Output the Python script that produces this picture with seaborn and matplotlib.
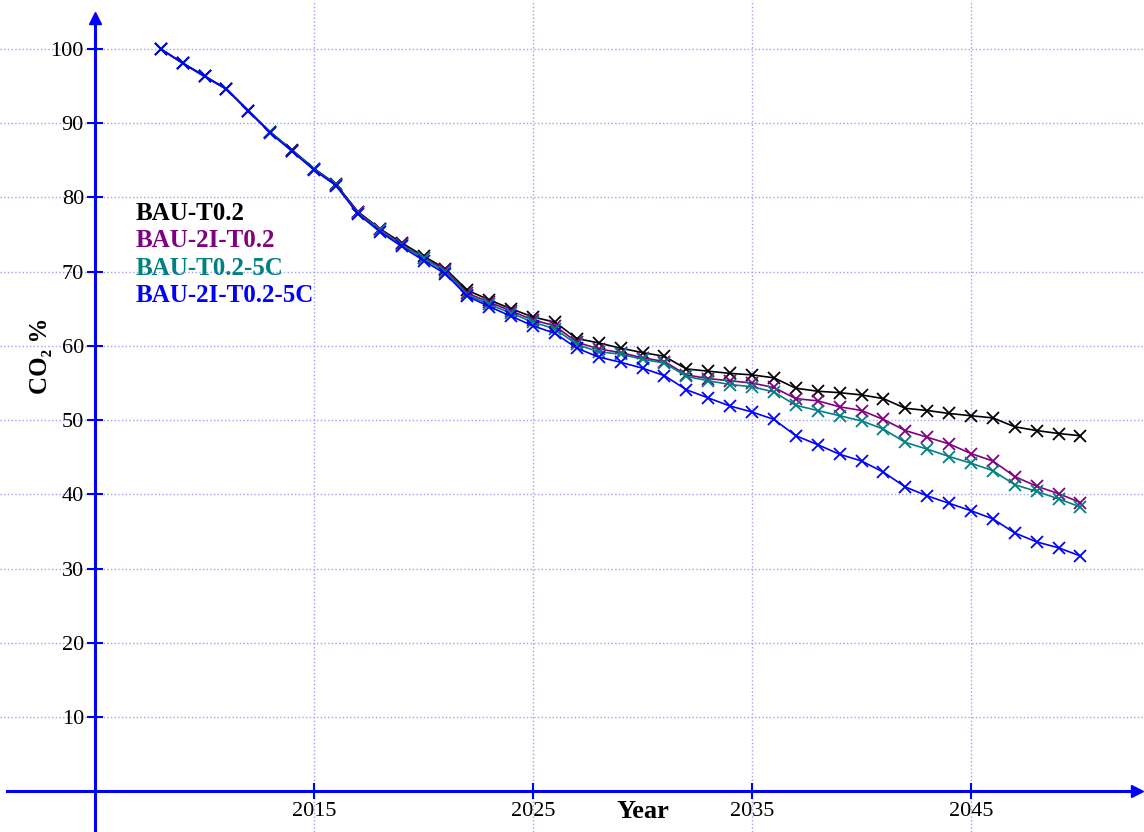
import matplotlib
matplotlib.use("Agg")
import matplotlib.pyplot as plt
import pandas as pd
import seaborn as sns

sns.set_style("white")
plt.rcParams['font.family'] = ['Liberation Serif', 'DejaVu Serif']

years = list(range(2008, 2051))

bau_t02 = [100, 98.1, 96.4, 94.6, 91.7, 88.8, 86.4, 83.9, 81.8, 78.1,
           75.8, 73.9, 72.1, 70.4, 67.5, 66.2, 65.0, 63.9, 63.2, 61.0,
           60.4, 59.7, 59.1, 58.6, 56.9, 56.6, 56.3, 56.1, 55.7, 54.3,
           53.9, 53.7, 53.4, 52.9, 51.6, 51.3, 50.9, 50.6, 50.3, 49.1,
           48.6, 48.2, 47.9]
bau_2i_t02 = [100, 98.1, 96.3, 94.6, 91.7, 88.8, 86.3, 83.8, 81.7, 78.0,
              75.7, 73.7, 71.9, 70.2, 67.1, 65.9, 64.7, 63.5, 62.7, 60.5,
              59.6, 59.1, 58.4, 57.9, 56.1, 55.6, 55.3, 55.0, 54.4, 52.9,
              52.6, 51.8, 51.3, 50.1, 48.6, 47.7, 46.8, 45.5, 44.5, 42.4,
              41.1, 40.1, 38.9]
bau_t02_5c = [100, 98.1, 96.3, 94.6, 91.7, 88.8, 86.3, 83.8, 81.7, 77.9,
              75.6, 73.6, 71.8, 70.0, 66.9, 65.6, 64.4, 63.2, 62.3, 60.2,
              59.2, 58.9, 58.2, 57.7, 55.9, 55.3, 54.8, 54.5, 53.8, 52.0,
              51.3, 50.6, 49.9, 48.8, 47.0, 46.1, 45.1, 44.2, 43.2, 41.3,
              40.4, 39.4, 38.3]
bau_2i_t02_5c = [100, 98.1, 96.3, 94.6, 91.6, 88.7, 86.2, 83.7, 81.6, 77.8,
                 75.4, 73.4, 71.5, 69.7, 66.7, 65.3, 64.0, 62.7, 61.7, 59.7,
                 58.5, 57.8, 57.0, 56.0, 54.1, 53.0, 51.9, 51.1, 50.1, 47.9,
                 46.7, 45.4, 44.5, 43.0, 41.0, 39.8, 38.8, 37.8, 36.7, 34.8,
                 33.6, 32.8, 31.7]

scenarios = ['BAU-T0.2', 'BAU-2I-T0.2', 'BAU-T0.2-5C', 'BAU-2I-T0.2-5C']
colors = ['black', '#800080', '#008080', '#0000ff']
x_ticks = [2015, 2025, 2035, 2045]
y_ticks = [10, 20, 30, 40, 50, 60, 70, 80, 90, 100]

df = pd.DataFrame({
    'Year': years * 4,
    'CO2': bau_t02 + bau_2i_t02 + bau_t02_5c + bau_2i_t02_5c,
    'Scenario': [s for s in scenarios for _ in years],
})

fig = plt.figure(figsize=(11.44, 8.32), dpi=100)
ax = fig.add_axes([0, 0, 1, 1])

sns.lineplot(data=df, x='Year', y='CO2', hue='Scenario', hue_order=scenarios,
             palette=colors, marker='x', markersize=8, markeredgewidth=1.3,
             linewidth=1.2, legend=False, ax=ax)
for line, c in zip(ax.lines, colors):
    line.set_markeredgecolor(c)

ax.set_xlim(2000.66, 2052.9)
ax.set_ylim(-5.48, 106.6)

# math-style axes crossing at (2005, 0)
for side in ['top', 'right']:
    ax.spines[side].set_visible(False)
ax.spines['left'].set_position(('data', 2005))
ax.spines['bottom'].set_position(('data', 0))
ax.spines['left'].set_bounds(-5.48, 104)
ax.spines['bottom'].set_bounds(2001.0, 2052.4)
for side in ['left', 'bottom']:
    ax.spines[side].set_color('blue')
    ax.spines[side].set_linewidth(2.2)
ax.plot(2005, 104.2, marker='^', color='blue', ms=9, clip_on=False)
ax.plot(2052.6, 0, marker='>', color='blue', ms=9, clip_on=False)

ax.set_xticks(x_ticks)
ax.set_yticks(y_ticks)
ax.tick_params(axis='both', direction='inout', length=12, width=1.5,
               color='blue', labelcolor='black', labelsize=16, pad=2,
               left=True, bottom=True)
ax.set_xlabel('')
ax.set_ylabel('')

ax.grid(True, color='#a0a0ff', linestyle=':', linewidth=1)
ax.set_axisbelow(True)

ax.text(2002.5, 58.7, 'CO₂ %', rotation=90, fontsize=18, fontweight='bold',
        ha='center', va='center', color='black')
ax.text(2030.0, -3.6, 'Year', fontsize=19, fontweight='bold',
        ha='center', va='baseline', color='black')

for i, (name, c) in enumerate(zip(scenarios, colors)):
    ax.text(0.1189, 0.7356 - i * 0.0329, name, color=c, fontsize=18,
            fontweight='bold', transform=ax.transAxes, va='baseline')

fig.savefig('out.png', dpi=100)
